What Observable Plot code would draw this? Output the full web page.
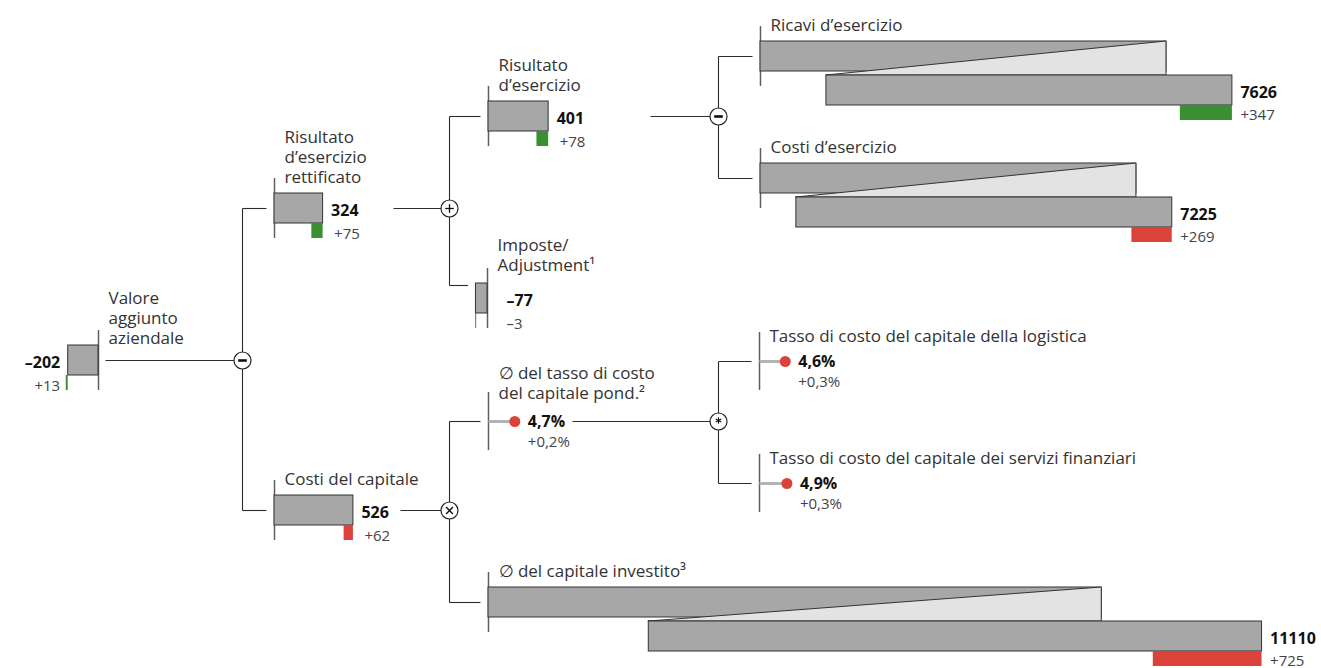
<!DOCTYPE html>
<html><head><meta charset="utf-8">
<script src="https://cdn.jsdelivr.net/npm/d3@7"></script>
<script src="https://cdn.jsdelivr.net/npm/@observablehq/plot@0.6"></script>
<style>body{margin:0;background:#fff;} #chart svg{display:block;}</style>
</head><body><div id="chart"></div>
<script>
// ---------- DATA ----------
const ids = ["valore","rett","capitale","risultato","imposte","wacc","investito","ricavi","costi","logistica","finanz"];
const labels = [
  "Valore\naggiunto\naziendale",
  "Risultato\nd’esercizio\nrettificato",
  "Costi del capitale",
  "Risultato\nd’esercizio",
  "Imposte/\nAdjustment¹",
  "∅ del tasso di costo\ndel capitale pond.²",
  "∅ del capitale investito³",
  "Ricavi d’esercizio",
  "Costi d’esercizio",
  "Tasso di costo del capitale della logistica",
  "Tasso di costo del capitale dei servizi finanziari"
];
const values = [-202, 324, 526, 401, -77, 4.7, 11110, 7626, 7225, 4.6, 4.9];
const deltas = [13, 75, 62, 78, -3, 0.2, 725, 347, 269, 0.3, 0.3];
const kinds  = ["bar","bar","bar","bar","bar","rate","broken","broken","broken","rate","rate"];
const tones  = ["good","good","bad","good","good","bad","bad","good","bad","bad","bad"];
const operators = ["−","+","−","×","*"];
const operatorParents = ["valore","rett","risultato","capitale","wacc"];
const operatorChildren = [["rett","capitale"],["risultato","imposte"],["ricavi","costi"],["wacc","investito"],["logistica","finanz"]];

// ---------- LAYOUT (tree positions, separate from data) ----------
const W = 1321, H = 668;
const K = 0.15;     // px per unit
const KR = 5.6;     // px per % point
const LINE = 20;    // label line spacing
const layout = {
  valore:    {tick: 98,  yc: 360, side: "left", labelDy: 9},
  rett:      {tick: 274, yc: 208, side: "right"},
  capitale:  {tick: 274, yc: 510, side: "right"},
  risultato: {tick: 488, yc: 116, side: "right"},
  imposte:   {tick: 487, yc: 298, side: "tick", labelDy: -2, branchY: 285},
  wacc:      {tick: 488, yc: 421, labelDy: -3},
  investito: {tick: 488, yc: 602, hide: 5953, core: 3020},
  ricavi:    {tick: 760, yc: 56,  hide: 4480, core: 2267},
  costi:     {tick: 760, yc: 178, hide: 4480, core: 2267},
  logistica: {tick: 759, yc: 361},
  finanz:    {tick: 759, yc: 483}
};
const opLayout = [{x: 242, out: 105}, {x: 449, out: 393}, {x: 718, out: 650}, {x: 449, out: 400}, {x: 718, out: 572}];
const COLORS = {good: "#3a8f30", bad: "#db433a", bar: "#a7a7a7", light: "#e3e3e3", edge: "#333"};

// ---------- helpers ----------
const dec = v => Math.abs(v).toFixed(1).replace(".", ",");
function fmtVal(v, kind) { return kind === "rate" ? dec(v) + "%" : (v < 0 ? "–" + Math.abs(v) : String(v)); }
function fmtDelta(d, kind) { const s = d < 0 ? "–" : "+"; return kind === "rate" ? s + dec(d) + "%" : s + Math.abs(d); }

const nodes = ids.map((id, i) => ({id, label: labels[i], value: values[i], delta: deltas[i], kind: kinds[i], tone: tones[i], ...layout[id]}));
const byId = Object.fromEntries(nodes.map(n => [n.id, n]));

const bars = [], deltaBars = [], lightAreas = [], ticks = [], rateLines = [], rateDots = [], valueTexts = [], deltaTexts = [], labelTexts = [];
function pushLabel(x, baseline, label) {
  const lines = label.split("\n"), n = lines.length;
  lines.forEach((s, i) => labelTexts.push({x, y: baseline - (n - 1 - i) * LINE, text: s}));
}
for (const n of nodes) {
  const t = n.tick, yc = n.yc;
  if (n.kind === "bar") {
    const xe = t + n.value * K, xp = t + (n.value - n.delta) * K;
    n.left = Math.min(t, xe);
    bars.push({x1: Math.min(t, xe), x2: Math.max(t, xe), y1: yc - 15, y2: yc + 15});
    let a = Math.min(xp, xe), b = Math.max(xp, xe); if (b - a < 1) { const m = (a + b) / 2; a = m - 0.5; b = m + 0.5; }
    deltaBars.push({x1: a, x2: b, y1: yc + 15, y2: yc + 30, tone: n.tone});
    ticks.push({x: t, y1: yc - 30, y2: yc + 30});
    let vx, dx, anchor;
    if (n.side === "left") { vx = xe - 8; dx = xe - 8; anchor = "end"; }
    else if (n.side === "tick") { vx = t + 19; dx = t + 19; anchor = "start"; }
    else { vx = xe + 8; dx = xe + 11; anchor = "start"; }
    valueTexts.push({x: vx, y: yc + 7.5, text: fmtVal(n.value, n.kind), anchor});
    deltaTexts.push({x: dx, y: yc + 30, text: fmtDelta(n.delta, n.kind), anchor});
    pushLabel(t + 10, yc - 26 + (n.labelDy || 0), n.label);
  } else if (n.kind === "broken") {
    const E = (n.value - n.hide) * K, o = (E - n.core * K) / 2;
    n.left = t;
    bars.push({x1: t, x2: t + E - o, y1: yc - 15, y2: yc + 15, layer: 0});
    lightAreas.push({id: n.id, x: t + o, y1: yc + 19, y2: yc + 19});
    lightAreas.push({id: n.id, x: t + E - o, y1: yc + 19, y2: yc - 15});
    bars.push({x1: t + o, x2: t + E, y1: yc + 19, y2: yc + 49, layer: 1});
    deltaBars.push({x1: t + E - n.delta * K, x2: t + E, y1: yc + 49, y2: yc + 64, tone: n.tone});
    ticks.push({x: t, y1: yc - 30, y2: yc + 30});
    valueTexts.push({x: t + E + 8, y: yc + 41, text: fmtVal(n.value, n.kind), anchor: "start"});
    deltaTexts.push({x: t + E + 8, y: yc + 63, text: fmtDelta(n.delta, n.kind), anchor: "start"});
    pushLabel(t + 10, yc - 26 + (n.labelDy || 0), n.label);
  } else {
    const xd = t + n.value * KR;
    n.left = t;
    rateLines.push({x1: t, x2: xd, y: yc});
    rateDots.push({x: xd, y: yc});
    ticks.push({x: t, y1: yc - 29, y2: yc + 29});
    valueTexts.push({x: xd + 13, y: yc + 5.5, text: fmtVal(n.value, n.kind), anchor: "start"});
    deltaTexts.push({x: xd + 13, y: yc + 25, text: fmtDelta(n.delta, n.kind), anchor: "start"});
    pushLabel(t + 10, yc - 20 + (n.labelDy || 0), n.label);
  }
}

// connectors and operators
const links = [], ops = [], symLinks = [];
operators.forEach((sym, i) => {
  const p = byId[operatorParents[i]], L = opLayout[i];
  const oy = p.yc, ox = L.x;
  ops.push({x: ox, y: oy});
  links.push({x1: L.out, y1: oy, x2: ox, y2: oy});
  const cy = operatorChildren[i].map(c => byId[c].branchY ?? byId[c].yc);
  links.push({x1: ox, y1: Math.min(...cy), x2: ox, y2: Math.max(...cy)});
  operatorChildren[i].forEach((c, j) => links.push({x1: ox, y1: cy[j], x2: byId[c].left - 8, y2: cy[j]}));
  const s = 4.3;
  if (sym === "−") symLinks.push({x1: ox - s, y1: oy, x2: ox + s, y2: oy, w: 2.6});
  if (sym === "+") { symLinks.push({x1: ox - s, y1: oy, x2: ox + s, y2: oy, w: 1.3}); symLinks.push({x1: ox, y1: oy - s, x2: ox, y2: oy + s, w: 1.3}); }
  if (sym === "×") { const d = 3.4; symLinks.push({x1: ox - d, y1: oy - d, x2: ox + d, y2: oy + d, w: 1.4}); symLinks.push({x1: ox - d, y1: oy + d, x2: ox + d, y2: oy - d, w: 1.4}); }
  if (sym === "*") { [90, 30, 150].forEach(a => { const r = a * Math.PI / 180, dx = 3.2 * Math.cos(r), dy = 3.2 * Math.sin(r); symLinks.push({x1: ox - dx, y1: oy - 1 - dy, x2: ox + dx, y2: oy - 1 + dy, w: 1.1}); }); }
});

const FONT = "'Open Sans', 'Noto Sans', sans-serif";
const txt = (data, anchor, o) => Plot.text(data.filter(d => (d.anchor || "start") === anchor), {x: "x", y: "y", text: "text", textAnchor: anchor, lineAnchor: "bottom", fontFamily: FONT, ...o});
const chart = Plot.plot({
  width: W, height: H, margin: 0,
  x: {domain: [0, W], range: [0, W], axis: null},
  y: {domain: [0, H], range: [0, H], axis: null},
  style: {fontFamily: FONT, background: "#fff", overflow: "visible"},
  marks: [
    Plot.link(links, {x1: "x1", y1: "y1", x2: "x2", y2: "y2", stroke: "#2b2b2b", strokeWidth: 1.1}),
    Plot.ruleX(ticks, {x: "x", y1: "y1", y2: "y2", stroke: "#5f5f5f", strokeWidth: 1.5}),
    Plot.rect(bars.filter(d => d.layer !== 1), {x1: "x1", x2: "x2", y1: "y1", y2: "y2", fill: COLORS.bar, stroke: COLORS.edge, strokeWidth: 1}),
    Plot.areaY(lightAreas, {x: "x", y1: "y1", y2: "y2", z: "id", fill: COLORS.light, stroke: COLORS.edge, strokeWidth: 1}),
    Plot.rect(bars.filter(d => d.layer === 1), {x1: "x1", x2: "x2", y1: "y1", y2: "y2", fill: COLORS.bar, stroke: COLORS.edge, strokeWidth: 1}),
    Plot.rect(deltaBars, {x1: "x1", x2: "x2", y1: "y1", y2: "y2", fill: d => COLORS[d.tone]}),
    Plot.link(rateLines, {x1: "x1", x2: "x2", y1: "y", y2: "y", stroke: "#b3b3b3", strokeWidth: 3}),
    Plot.dot(rateDots, {x: "x", y: "y", r: 5.5, fill: COLORS.bad, stroke: "none"}),
    Plot.dot(ops, {x: "x", y: "y", r: 8.5, fill: "white", stroke: "#222", strokeWidth: 1.2}),
    Plot.link(symLinks, {x1: "x1", y1: "y1", x2: "x2", y2: "y2", stroke: "#111", strokeWidth: d => d.w}),
    txt(labelTexts, "start", {fontSize: 17, fill: "#333"}),
    txt(valueTexts, "start", {fontSize: 16, fontWeight: "bold", fill: "#111"}),
    txt(valueTexts, "end", {fontSize: 16, fontWeight: "bold", fill: "#111"}),
    txt(deltaTexts, "start", {fontSize: 15, fill: "#444"}),
    txt(deltaTexts, "end", {fontSize: 15, fill: "#444"})
  ]
});
document.getElementById("chart").appendChild(chart);
</script>
</body></html>
